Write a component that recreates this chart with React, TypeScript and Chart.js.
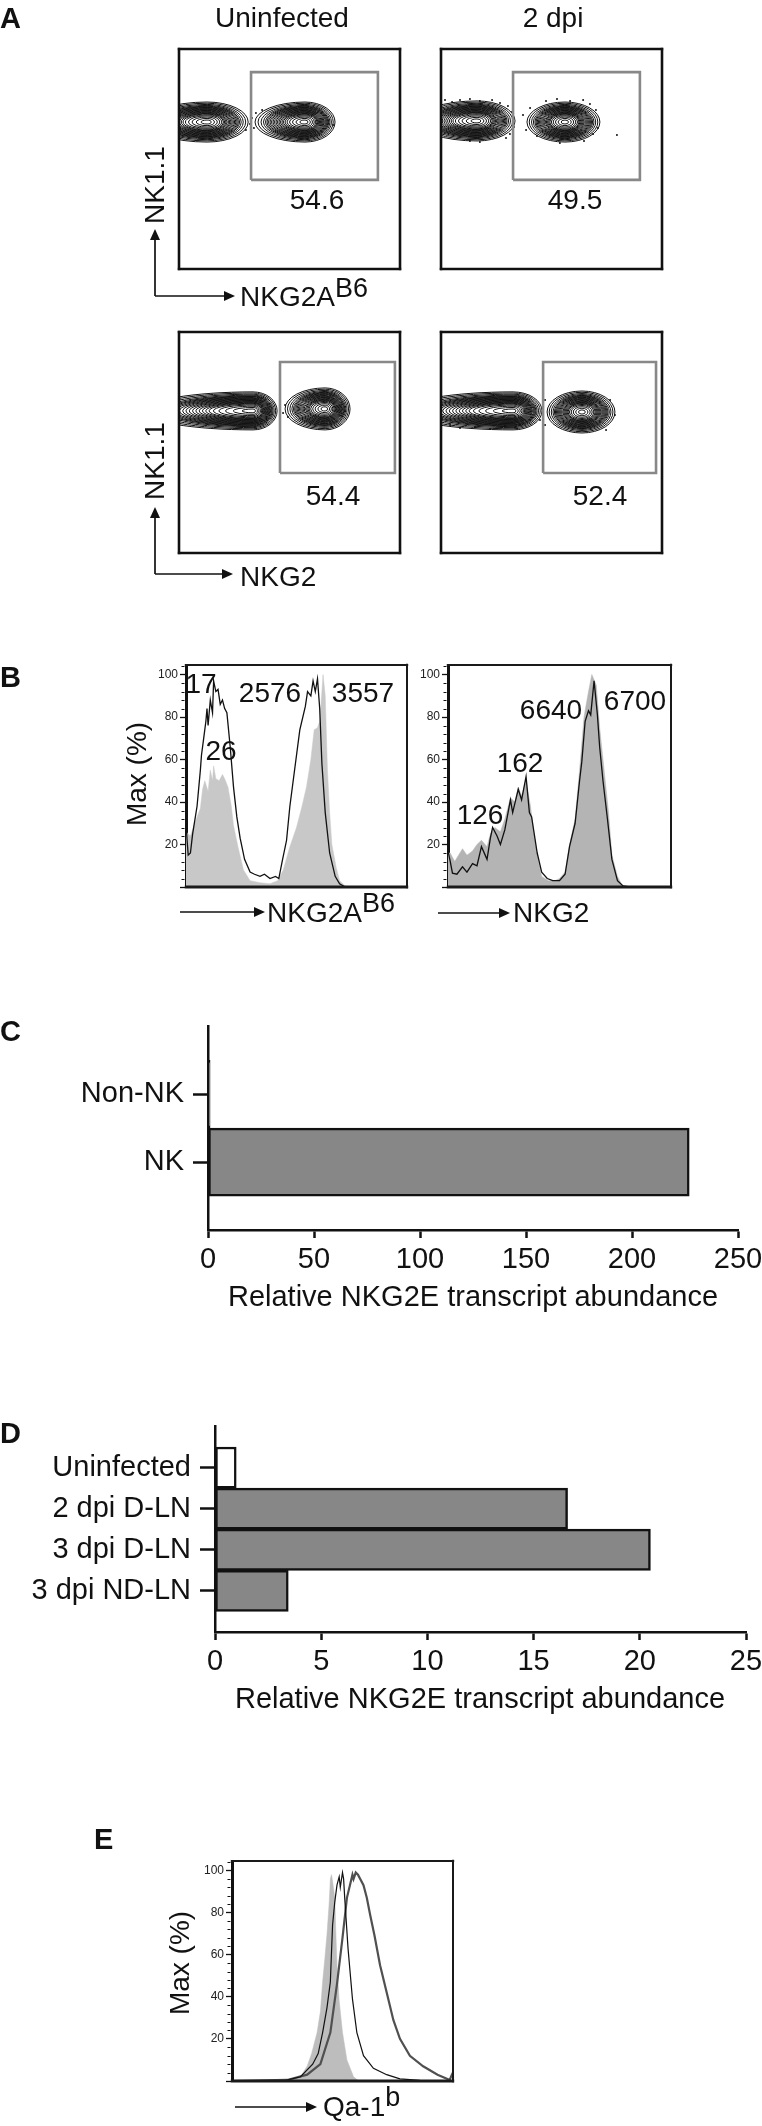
import React, { useEffect, useRef } from 'react';
import { Chart, registerables } from 'chart.js';

Chart.register(...registerables);

const FONT = "'Liberation Sans', Arial, Helvetica, sans-serif";
Chart.defaults.font.family = FONT;
Chart.defaults.color = '#111';

// ---------------- Panel A (flow contour plots, arbitrary 0-1000 units) ----------------
const flowColumnTitles = ['Uninfected', '2 dpi'];
const flowGatePercents = ['54.6', '49.5', '54.4', '52.4'];
const flowXLabels = ['NKG2A', 'NKG2'];
const flowYLabel = 'NK1.1';

const gate1X = [326, 900];
const gate1Y = [405, 895];
const gate2X = [326, 900];
const gate2Y = [405, 895];
const gate3X = [457, 977];
const gate3Y = [362, 864];
const gate4X = [462, 973];
const gate4Y = [362, 864];

// populations: [centerX, centerY, leftRadius, rightRadius, verticalRadius]
const blobs1 = [[127, 668, 272, 186, 91], [570, 668, 226, 136, 91]];
const blobs2 = [[163, 673, 272, 172, 91], [561, 668, 172, 158, 91]];
const blobs3 = [[335, 643, 498, 109, 86], [661, 652, 181, 113, 95]];
const blobs4 = [[326, 643, 498, 131, 86], [638, 638, 158, 149, 95]];

const dots1X = [321, 330, 339, 348, 376, 697, 303];
const dots1Y = [659, 686, 641, 709, 723, 655, 632];
const dots2X = [18, 50, 86, 131, 176, 231, 267, 303, 321, 330, 312, 294, 176, 131, 371, 385, 403, 475, 525, 584, 643, 674, 701, 710, 688, 647, 538, 434, 796];
const dots2Y = [768, 759, 768, 773, 764, 768, 755, 741, 714, 645, 614, 595, 577, 582, 700, 632, 732, 764, 773, 764, 768, 750, 723, 641, 614, 582, 573, 605, 609];
const dots3X = [457, 480, 493, 471];
const dots3Y = [701, 670, 615, 633];
const dots4X = [41, 86, 154, 222, 290, 357, 448, 471, 765, 787, 747, 471];
const dots4Y = [579, 566, 570, 561, 575, 579, 602, 692, 692, 624, 556, 579];

const RING_SCALES = [1, 0.94, 0.88, 0.83, 0.79, 0.76, 0.73, 0.7, 0.67, 0.64, 0.61, 0.58, 0.55, 0.52, 0.49, 0.46, 0.43, 0.4, 0.36, 0.31, 0.25, 0.18, 0.1];

// ---------------- Panel B (histograms, channel 0-200, % of max) ----------------
const bLeftLineX = [0, 1, 2, 4, 6, 10, 13, 14, 16, 18, 19, 20, 22, 24, 25, 27, 29, 31, 33, 35, 37, 40, 43, 46, 49, 53, 58, 62, 67, 71, 76, 81, 84, 87, 91, 94, 99, 103, 108, 110, 113, 115, 117, 119, 121, 123, 126, 130, 135, 139, 144, 200];
const bLeftLineY = [30, 22, 15, 16, 25, 38, 55, 62, 70, 78, 84, 76, 88, 82, 97, 92, 93, 86, 88, 84, 82, 66, 47, 33, 23, 13, 7, 6, 5, 6, 4, 5, 4, 12, 22, 38, 58, 74, 85, 92, 90, 97, 92, 98, 84, 58, 35, 16, 5, 1.5, 0, 0];
const bLeftFillX = [0, 4, 6, 10, 13, 15, 17, 20, 22, 24, 25, 27, 30, 33, 35, 38, 41, 43, 47, 52, 58, 67, 76, 83, 88, 94, 100, 105, 109, 113, 116, 119, 121, 123, 124, 126, 128, 130, 132, 136, 139, 144, 148, 200];
const bLeftFillY = [26, 24, 27, 33, 37, 46, 50, 45, 55, 50, 57, 51, 50, 53, 51, 47, 38, 29, 19, 8, 3, 2, 1.5, 3, 8, 19, 28, 38, 47, 60, 74, 75, 78, 92, 100, 90, 55, 35, 20, 9, 3, 0.5, 0, 0];
const bLeftPeakLabels = ['17', '26', '2576', '3557'];

const bRightLineX = [0, 2, 4, 8, 13, 17, 22, 26, 30, 35, 38, 40, 44, 47, 51, 56, 58, 63, 66, 70, 73, 75, 80, 84, 89, 94, 100, 105, 109, 114, 118, 120, 123, 126, 128, 131, 134, 136, 139, 143, 147, 152, 157, 163, 200];
const bRightLineY = [17, 12, 6.5, 6, 9.5, 7, 11, 10, 19, 13, 23, 28, 24, 20, 27, 41, 35, 46, 41, 52, 35, 33, 16, 7, 4, 3, 3, 6, 19, 30, 50, 59, 78, 83, 81, 97, 81, 66, 50, 32, 13, 3, 0.5, 0, 0];
const bRightFillX = [0, 2, 6, 13, 17, 22, 26, 30, 35, 38, 42, 47, 51, 56, 60, 63, 66, 70, 74, 77, 81, 84, 90, 96, 100, 105, 109, 114, 118, 122, 126, 129, 133, 136, 140, 144, 147, 152, 156, 160, 200];
const bRightFillY = [16, 16, 12, 18, 15, 17, 20, 22, 19, 25, 28, 26, 32, 42, 40, 47, 43, 50, 38, 25, 12, 5, 3, 3, 4, 7, 20, 32, 55, 80, 92, 100, 95, 75, 55, 35, 15, 5, 1, 0, 0];
const bRightPeakLabels = ['126', '162', '6640', '6700'];

const histYTicks = [0, 20, 40, 60, 80, 100];
const histYLabel = 'Max (%)';

// ---------------- Panel C ----------------
const cCategories = ['Non-NK', 'NK'];
const cValues = [1, 227];
const cTicks = [0, 50, 100, 150, 200, 250];
const barAxisTitle = 'Relative NKG2E transcript abundance';

// ---------------- Panel D ----------------
const dCategories = ['Uninfected', '2 dpi D-LN', '3 dpi D-LN', '3 dpi ND-LN'];
const dValues = [1.0, 16.6, 20.5, 3.45];
const dTicks = [0, 5, 10, 15, 20, 25];

// ---------------- Panel E ----------------
const eFillX = [0, 50, 62, 68, 72, 77, 80, 82, 84, 86, 88, 89, 90, 91, 93, 94, 95, 97, 100, 104, 110, 114, 120, 200];
const eFillY = [0, 0, 2, 7, 13, 23, 33, 47, 58, 70, 85, 96, 98, 95, 87, 70, 55, 38, 23, 10, 2, 0.3, 0, 0];
const eThinX = [0, 46, 62, 73, 78, 82, 86, 89, 91, 93, 95, 97, 98, 100, 101, 102, 105, 109, 113, 119, 128, 140, 152, 170, 200];
const eThinY = [0, 0, 2, 8, 13, 23, 35, 47, 74, 85, 93, 97, 92, 99, 96, 87, 63, 39, 23, 12, 6, 3, 1, 0.3, 0];
const eThickX = [0, 50, 68, 80, 89, 95, 100, 104, 109, 110, 112, 114, 119, 122, 125, 129, 134, 140, 146, 152, 161, 173, 186, 195, 197, 199, 200];
const eThickY = [0, 0.5, 3, 8, 23, 46, 68, 87, 98, 96, 99, 98, 93, 87, 79, 69, 55, 42, 29, 20, 12, 7, 3, 1, 0.5, 3, 4];
const eXLabel = 'Qa-1';

// ---------------- helpers ----------------
const pts = (xs: number[], ys: number[]) => xs.map((x, i) => ({ x, y: ys[i] }));

const contourPlugin = (blobs: number[][]) => ({
  id: 'contours',
  beforeDatasetsDraw(chart: any) {
    const { ctx, chartArea, scales } = chart;
    const sx = scales.x, sy = scales.y;
    ctx.save();
    ctx.beginPath();
    ctx.rect(chartArea.left, chartArea.top, chartArea.right - chartArea.left, chartArea.bottom - chartArea.top);
    ctx.clip();
    ctx.strokeStyle = '#111';
    ctx.lineWidth = 1;
    for (const [cx, cy, rxL, rxR, ry] of blobs) {
      const px = sx.getPixelForValue(cx);
      const py = sy.getPixelForValue(cy);
      for (const s of RING_SCALES) {
        const rR = Math.abs(sx.getPixelForValue(cx + rxR * s) - px);
        const rL = Math.abs(px - sx.getPixelForValue(cx - rxL * s));
        const rY = Math.abs(py - sy.getPixelForValue(cy + ry * s));
        ctx.beginPath();
        ctx.ellipse(px, py, rR, rY, 0, -Math.PI / 2, Math.PI / 2);
        ctx.ellipse(px, py, rL, rY, 0, Math.PI / 2, Math.PI * 1.5);
        ctx.closePath();
        ctx.stroke();
      }
    }
    ctx.restore();
  },
});

const framePlugin = (sides: { top: number; right: number; bottom: number; left: number }, color = '#111') => ({
  id: 'frame',
  afterDraw(chart: any) {
    const { ctx, chartArea: a } = chart;
    ctx.save();
    ctx.strokeStyle = color;
    const seg = (w: number, x1: number, y1: number, x2: number, y2: number) => {
      if (!w) return;
      ctx.lineWidth = w;
      ctx.beginPath();
      ctx.moveTo(x1, y1);
      ctx.lineTo(x2, y2);
      ctx.stroke();
    };
    const ext = 1.2;
    seg(sides.top, a.left - ext, a.top, a.right + ext, a.top);
    seg(sides.right, a.right, a.top - ext, a.right, a.bottom + ext);
    seg(sides.bottom, a.left - ext, a.bottom, a.right + ext, a.bottom);
    seg(sides.left, a.left, a.top - ext, a.left, a.bottom + ext);
    ctx.restore();
  },
});

const minorTickPlugin = {
  id: 'minorTicks',
  afterDraw(chart: any) {
    const { ctx, chartArea: a, scales } = chart;
    const sy = scales.y;
    ctx.save();
    ctx.strokeStyle = '#111';
    ctx.lineWidth = 1;
    for (let v = 4; v <= 104; v += 4) {
      if (v % 20 === 0) continue;
      const py = Math.round(sy.getPixelForValue(v)) + 0.5;
      ctx.beginPath();
      ctx.moveTo(a.left - 1.5, py);
      ctx.lineTo(a.left - 4.5, py);
      ctx.stroke();
    }
    ctx.restore();
  },
};

function ChartBox({ left, top, width, height, make }: any) {
  const ref = useRef<HTMLCanvasElement>(null);
  useEffect(() => {
    const chart = new Chart(ref.current as HTMLCanvasElement, make());
    return () => chart.destroy();
  }, []);
  return (
    <div style={{ position: 'absolute', left, top, width, height }}>
      <canvas ref={ref} width={width} height={height} style={{ width, height }} />
    </div>
  );
}

const baseOpts = {
  responsive: false,
  animation: false as const,
  events: [] as any[],
  devicePixelRatio: 1,
};

function flowConfig(gx: number[], gy: number[], blobs: number[][], dx: number[], dy: number[]) {
  const gate = [
    { x: gx[0], y: gy[0] }, { x: gx[1], y: gy[0] }, { x: gx[1], y: gy[1] }, { x: gx[0], y: gy[1] }, { x: gx[0], y: gy[0] },
  ];
  return {
    type: 'scatter',
    data: {
      datasets: [
        { data: gate, showLine: true, borderColor: '#888', borderWidth: 2.6, pointRadius: 0, fill: false, borderJoinStyle: 'miter' },
        { data: pts(dx, dy), showLine: false, pointRadius: 1, pointBackgroundColor: '#111', pointBorderWidth: 0 },
      ],
    },
    options: {
      ...baseOpts,
      layout: { padding: 5 },
      plugins: { legend: { display: false }, tooltip: { enabled: false } },
      scales: {
        x: { type: 'linear', min: 0, max: 1000, display: false },
        y: { type: 'linear', min: 0, max: 1000, display: false },
      },
    },
    plugins: [contourPlugin(blobs), framePlugin({ top: 2.6, right: 2.6, bottom: 2.6, left: 2.6 })],
  } as any;
}

function histConfig(datasets: any[], padRight: number, padBottom: number) {
  return {
    type: 'line',
    data: { datasets },
    options: {
      ...baseOpts,
      layout: { padding: { top: 15, right: padRight, bottom: padBottom, left: 0 } },
      plugins: { legend: { display: false }, tooltip: { enabled: false } },
      elements: { point: { radius: 0 }, line: { tension: 0 } },
      scales: {
        x: { type: 'linear', min: 0, max: 200, display: false },
        y: {
          type: 'linear',
          min: 0,
          max: 104.5,
          afterFit: (s: any) => { s.width = 56; },
          afterBuildTicks: (s: any) => { s.ticks = histYTicks.map((v) => ({ value: v })); },
          ticks: {
            autoSkip: false,
            font: { size: 12 },
            color: '#222',
            padding: 2,
            callback: (v: any) => (v === 0 ? '' : String(v)),
          },
          grid: { display: true, drawOnChartArea: false, drawTicks: true, tickLength: 6, tickWidth: 1.3, tickColor: '#111' },
          border: { display: true, color: '#111', width: 3 },
        },
      },
    },
    plugins: [framePlugin({ top: 2, right: 2, bottom: 3, left: 0 }, '#1a1a1a'), minorTickPlugin],
  } as any;
}

function barConfig(categories: string[], values: number[], colors: string[], max: number, ticks: number[], axisLeft: number, padTop: number, padRight: number, xHeight: number) {
  const labels = ['', ...categories, ''];
  const n = labels.length;
  return {
    type: 'bar',
    data: {
      labels,
      datasets: [
        {
          data: [null, ...values, null],
          backgroundColor: ['#fff', ...colors, '#fff'],
          borderColor: '#111',
          borderWidth: 2.5,
          borderSkipped: false,
          categoryPercentage: 1,
          barPercentage: 1,
        },
      ],
    },
    options: {
      ...baseOpts,
      indexAxis: 'y',
      layout: { padding: { top: padTop, right: padRight, bottom: 0, left: 0 } },
      plugins: { legend: { display: false }, tooltip: { enabled: false } },
      scales: {
        y: {
          type: 'category',
          offset: false,
          afterFit: (s: any) => { s.width = axisLeft; },
          ticks: { autoSkip: false, font: { size: 29 }, color: '#111', padding: 9 },
          grid: {
            offset: false,
            display: true,
            drawOnChartArea: false,
            drawTicks: true,
            tickLength: 15,
            tickWidth: 2.5,
            tickColor: (ctx: any) => (ctx.index === 0 || ctx.index === n - 1 ? 'rgba(0,0,0,0)' : '#111'),
          },
          border: { display: true, color: '#111', width: 2.5 },
        },
        x: {
          type: 'linear',
          min: 0,
          max,
          afterFit: (s: any) => { s.height = xHeight; },
          afterBuildTicks: (s: any) => { s.ticks = ticks.map((v) => ({ value: v })); },
          ticks: { autoSkip: false, maxRotation: 0, font: { size: 29 }, color: '#111', padding: 5 },
          grid: { display: true, drawOnChartArea: false, drawTicks: true, tickLength: 8, tickWidth: 2.5, tickColor: '#111' },
          border: { display: true, color: '#111', width: 2.5 },
        },
      },
    },
  } as any;
}

function T({ x, y, s = 28, a = 'center', b = false, r = false, children }: any) {
  const tx = a === 'left' ? '0' : a === 'right' ? '-100%' : '-50%';
  return (
    <div
      style={{
        position: 'absolute',
        left: x,
        top: y,
        transform: `translate(${tx},-50%)${r ? ' rotate(-90deg)' : ''}`,
        fontSize: s,
        fontWeight: b ? 700 : 400,
        lineHeight: 1,
        whiteSpace: 'nowrap',
        color: '#111',
      }}
    >
      {children}
    </div>
  );
}

const Sup = ({ children, dy = -9, s = 27 }: any) => (
  <span style={{ position: 'relative', top: dy, fontSize: s }}>{children}</span>
);

function arrowHead(x1: number, y1: number, x2: number, y2: number) {
  const L = 11, W = 5;
  const len = Math.hypot(x2 - x1, y2 - y1);
  const ux = (x2 - x1) / len, uy = (y2 - y1) / len;
  const bx = x2 - ux * L, by = y2 - uy * L;
  return `${x2},${y2} ${bx - uy * W},${by + ux * W} ${bx + uy * W},${by - ux * W}`;
}

const arrows = [
  [155, 296, 155, 229], [155, 296, 235, 296],
  [155, 574, 155, 507], [155, 574, 233, 574],
  [180, 912, 265, 912], [438, 913, 510, 913],
  [235, 2107, 317, 2107],
];

export default function App() {
  const gray = '#878787';
  return (
    <div style={{ position: 'absolute', left: 0, top: 0, width: 762, height: 2126, overflow: 'hidden', background: '#fff', fontFamily: FONT }}>
      {/* Panel A charts */}
      <ChartBox left={174} top={44} width={231} height={230} make={() => flowConfig(gate1X, gate1Y, blobs1, dots1X, dots1Y)} />
      <ChartBox left={436} top={44} width={231} height={230} make={() => flowConfig(gate2X, gate2Y, blobs2, dots2X, dots2Y)} />
      <ChartBox left={174} top={327} width={231} height={231} make={() => flowConfig(gate3X, gate3Y, blobs3, dots3X, dots3Y)} />
      <ChartBox left={436} top={327} width={231} height={231} make={() => flowConfig(gate4X, gate4Y, blobs4, dots4X, dots4Y)} />

      {/* Panel B charts */}
      <ChartBox
        left={130} top={650} width={290} height={250}
        make={() => histConfig([
          { data: pts(bLeftLineX, bLeftLineY), borderColor: '#111', borderWidth: 1.3, pointRadius: 0, fill: false },
          { data: pts(bLeftFillX, bLeftFillY), borderColor: '#c8c8c8', backgroundColor: '#c8c8c8', borderWidth: 0.5, pointRadius: 0, fill: 'origin' },
        ], 13, 13)}
      />
      <ChartBox
        left={392} top={650} width={290} height={250}
        make={() => histConfig([
          { data: pts(bRightLineX, bRightLineY), borderColor: '#111', borderWidth: 1.3, pointRadius: 0, fill: false },
          { data: pts(bRightFillX, bRightFillY), borderColor: '#b4b4b4', backgroundColor: '#b4b4b4', borderWidth: 0.5, pointRadius: 0, fill: 'origin' },
        ], 11, 13)}
      />

      {/* Panel C */}
      <ChartBox left={0} top={1000} width={800} height={290}
        make={() => barConfig(cCategories, cValues, [gray, gray], 250, cTicks, 208, 15, 62, 60)} />
      {/* Panel D */}
      <ChartBox left={0} top={1400} width={800} height={290}
        make={() => barConfig(dCategories, dValues, ['#ffffff', gray, gray, gray], 25, dTicks, 215, 17, 54, 58)} />

      {/* Panel E */}
      <ChartBox
        left={176} top={1846} width={290} height={250}
        make={() => histConfig([
          { data: pts(eThinX, eThinY), borderColor: '#111', borderWidth: 1.2, pointRadius: 0, fill: false },
          { data: pts(eThickX, eThickY), borderColor: '#505050', borderWidth: 2.2, pointRadius: 0, fill: false },
          { data: pts(eFillX, eFillY), borderColor: '#bdbdbd', backgroundColor: '#bdbdbd', borderWidth: 0.5, pointRadius: 0, fill: 'origin' },
        ], 13, 15)}
      />

      {/* arrows */}
      <svg width={762} height={2126} style={{ position: 'absolute', left: 0, top: 0, pointerEvents: 'none' }}>
        {arrows.map(([x1, y1, x2, y2], i) => {
          const len = Math.hypot(x2 - x1, y2 - y1);
          const ex = x2 - ((x2 - x1) / len) * 9, ey = y2 - ((y2 - y1) / len) * 9;
          return (
            <g key={i}>
              <line x1={x1} y1={y1} x2={ex} y2={ey} stroke="#111" strokeWidth={1.7} />
              <polygon points={arrowHead(x1, y1, x2, y2)} fill="#111" />
            </g>
          );
        })}
      </svg>

      {/* Panel A text */}
      <T x={0} y={18} s={29} a="left" b>A</T>
      <T x={282} y={18}>{flowColumnTitles[0]}</T>
      <T x={553} y={18}>{flowColumnTitles[1]}</T>
      <T x={317} y={200}>{flowGatePercents[0]}</T>
      <T x={575} y={200}>{flowGatePercents[1]}</T>
      <T x={333} y={496}>{flowGatePercents[2]}</T>
      <T x={600} y={496}>{flowGatePercents[3]}</T>
      <T x={155} y={185} r>{flowYLabel}</T>
      <T x={155} y={461} r>{flowYLabel}</T>
      <T x={240} y={297} a="left">{flowXLabels[0]}<Sup>B6</Sup></T>
      <T x={240} y={577} a="left">{flowXLabels[1]}</T>

      {/* Panel B text */}
      <T x={0} y={677} s={29} a="left" b>B</T>
      <T x={137} y={774} r>{histYLabel}</T>
      <T x={267} y={913} a="left">{flowXLabels[0]}<Sup dy={-10}>B6</Sup></T>
      <T x={513} y={913} a="left">{flowXLabels[1]}</T>
      <T x={201} y={684}>{bLeftPeakLabels[0]}</T>
      <T x={221} y={751}>{bLeftPeakLabels[1]}</T>
      <T x={270} y={693}>{bLeftPeakLabels[2]}</T>
      <T x={363} y={693}>{bLeftPeakLabels[3]}</T>
      <T x={480} y={815}>{bRightPeakLabels[0]}</T>
      <T x={520} y={763}>{bRightPeakLabels[1]}</T>
      <T x={551} y={710}>{bRightPeakLabels[2]}</T>
      <T x={635} y={701}>{bRightPeakLabels[3]}</T>

      {/* Panel C/D text */}
      <T x={0} y={1031} s={29} a="left" b>C</T>
      <T x={473} y={1296} s={29}>{barAxisTitle}</T>
      <T x={0} y={1433} s={29} a="left" b>D</T>
      <T x={480} y={1698} s={29}>{barAxisTitle}</T>

      {/* Panel E text */}
      <T x={94} y={1839} s={29} a="left" b>E</T>
      <T x={180} y={1963} r>{histYLabel}</T>
      <T x={323} y={2107} a="left">{eXLabel}<Sup dy={-10}>b</Sup></T>
    </div>
  );
}
